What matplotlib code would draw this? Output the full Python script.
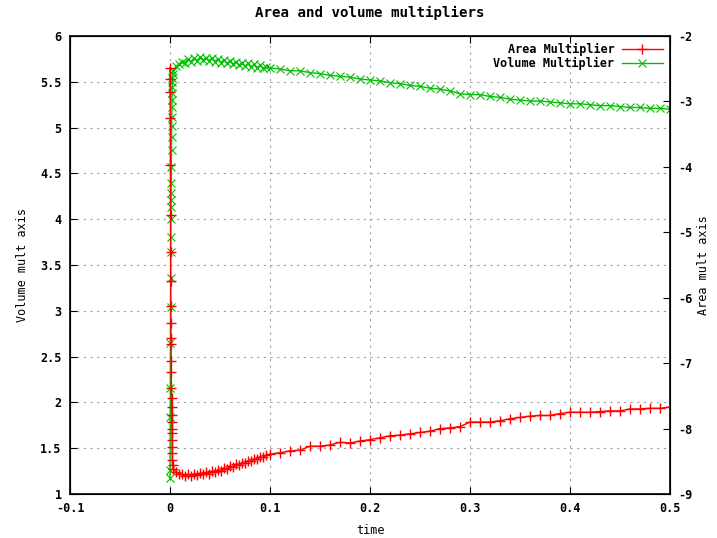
import matplotlib
matplotlib.use('Agg')
import matplotlib.pyplot as plt
from matplotlib.ticker import FormatStrFormatter, MultipleLocator

#time steps (shared by both series)
t = [0.0000, 0.0001, 0.0002, 0.0003, 0.0004, 0.0005, 0.0006, 0.0007, 0.0008, 0.0009,
     0.0010, 0.0011, 0.0012, 0.0013, 0.0014, 0.0015, 0.0016, 0.0017, 0.0018, 0.0019,
     0.0020, 0.0021, 0.0022, 0.0023, 0.0024, 0.0025,
     0.003, 0.006, 0.009, 0.012, 0.015, 0.018, 0.021, 0.024, 0.027, 0.030,
     0.033, 0.036, 0.039, 0.042, 0.045, 0.048, 0.051, 0.054, 0.057, 0.060,
     0.063, 0.066, 0.069, 0.072, 0.075, 0.078, 0.081, 0.084, 0.087, 0.090,
     0.093, 0.096,
     0.10, 0.11, 0.12, 0.13, 0.14, 0.15, 0.16, 0.17, 0.18, 0.19,
     0.20, 0.21, 0.22, 0.23, 0.24, 0.25, 0.26, 0.27, 0.28, 0.29,
     0.30, 0.31, 0.32, 0.33, 0.34, 0.35, 0.36, 0.37, 0.38, 0.39,
     0.40, 0.41, 0.42, 0.43, 0.44, 0.45, 0.46, 0.47, 0.48, 0.49, 0.50]

#area multiplier (right axis)
area = [-2.49, -2.66, -2.86, -3.25, -3.97, -4.74, -5.30, -5.75, -6.12, -6.39,
        -6.61, -6.70, -6.96, -7.14, -7.38, -7.54, -7.67, -7.80, -7.90, -8.00,
        -8.07, -8.18, -8.28, -8.38, -8.48, -8.55,
        -8.62, -8.66, -8.69, -8.70, -8.73, -8.70, -8.72, -8.69, -8.71, -8.68,
        -8.70, -8.67, -8.69, -8.65, -8.67, -8.63, -8.65, -8.60, -8.62, -8.57,
        -8.59, -8.54, -8.56, -8.52, -8.53, -8.49, -8.50, -8.46, -8.47, -8.43,
        -8.44, -8.41,
        -8.39, -8.37, -8.34, -8.33, -8.27, -8.27, -8.25, -8.21, -8.22, -8.19,
        -8.17, -8.14, -8.11, -8.10, -8.08, -8.06, -8.04, -8.00, -7.99, -7.97,
        -7.90, -7.90, -7.90, -7.88, -7.85, -7.83, -7.81, -7.80, -7.80, -7.77,
        -7.75, -7.75, -7.75, -7.74, -7.73, -7.73, -7.70, -7.70, -7.69, -7.69, -7.67]

#volume multiplier (left axis)
volume = [1.17, 1.26, 1.84, 2.16, 2.65, 3.04, 3.36, 3.64, 3.81, 4.00,
          4.13, 4.21, 4.29, 4.40, 4.57, 4.76, 4.90, 5.02, 5.12, 5.22,
          5.30, 5.38, 5.44, 5.50, 5.54, 5.58,
          5.62, 5.67, 5.69, 5.72, 5.71, 5.75, 5.72, 5.76, 5.73, 5.77,
          5.74, 5.76, 5.73, 5.76, 5.72, 5.75, 5.71, 5.74, 5.70, 5.73,
          5.69, 5.72, 5.68, 5.71, 5.67, 5.70, 5.66, 5.69, 5.65, 5.68,
          5.65, 5.66,
          5.65, 5.64, 5.62, 5.62, 5.60, 5.59, 5.57, 5.56, 5.55, 5.53,
          5.52, 5.51, 5.49, 5.48, 5.46, 5.45, 5.43, 5.42, 5.40, 5.37,
          5.36, 5.36, 5.34, 5.33, 5.31, 5.30, 5.29, 5.29, 5.28, 5.27,
          5.26, 5.26, 5.25, 5.24, 5.24, 5.23, 5.22, 5.22, 5.21, 5.21, 5.20]

plt.rcParams['font.family'] = ['DejaVu Sans Mono']
plt.rcParams['font.weight'] = 'bold'
plt.rcParams['font.size'] = 8.5

fig = plt.figure(figsize=(7.17, 5.38), dpi=100)
ax = fig.add_axes([70/717, 1-494/538, 600/717, 458/538])
ax2 = ax.twinx()

l1, = ax2.plot(t, area, color='#ff0000', lw=1, marker='+', ms=7, mew=1, label='Area Multiplier')
l2, = ax.plot(t, volume, color='#00c000', lw=1, marker='x', ms=6, mew=0.8, label='Volume Multiplier')

ax.set_xlim(-0.1, 0.5)
ax.set_ylim(1, 6)
ax2.set_ylim(-9, -2)
ax.xaxis.set_major_locator(MultipleLocator(0.1))
ax.yaxis.set_major_locator(MultipleLocator(0.5))
ax2.yaxis.set_major_locator(MultipleLocator(1))
ax.xaxis.set_major_formatter(FormatStrFormatter('%g'))
ax.yaxis.set_major_formatter(FormatStrFormatter('%g'))
ax2.yaxis.set_major_formatter(FormatStrFormatter('%g'))

ax.tick_params(axis='x', direction='in', top=True, length=5, pad=6)
ax.tick_params(axis='y', direction='in', length=5, pad=6)
ax2.tick_params(axis='y', direction='in', length=5, pad=6)
ax.grid(True, color='#a0a0a0', linestyle=(0, (2, 4)), lw=0.8)

for s in ax.spines.values():
    s.set_linewidth(1.2)

ax.set_title('Area and volume multipliers', pad=14, fontweight='bold')
ax.set_xlabel('time', labelpad=6)
ax.set_ylabel('Volume mult axis', labelpad=8)
ax2.set_ylabel('Area mult axis', rotation=90, labelpad=3)

ax.legend([l1, l2], ['Area Multiplier', 'Volume Multiplier'], loc='upper right',
          frameon=False, markerfirst=False, handlelength=3.5, borderaxespad=0.2,
          labelspacing=0.1, handletextpad=0.6)

fig.savefig('out.png', dpi=100)
